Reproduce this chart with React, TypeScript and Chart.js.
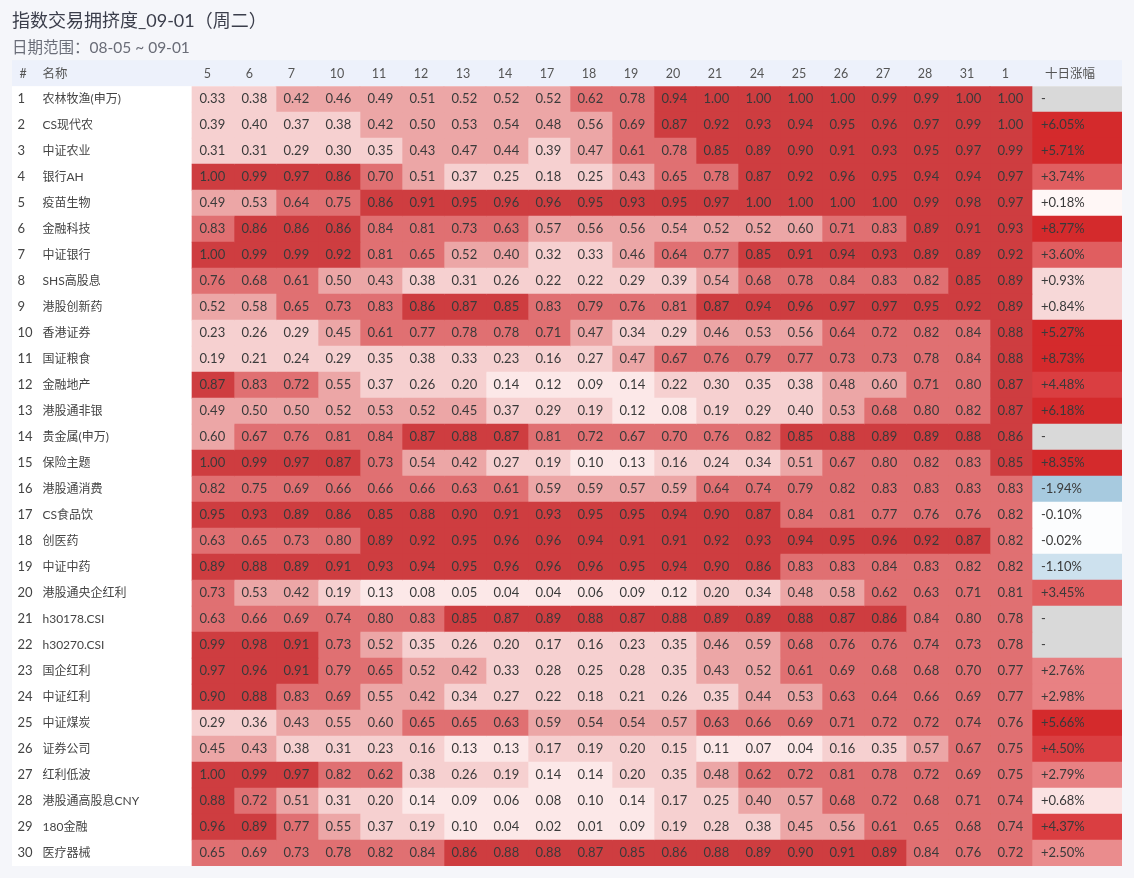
import React, { useEffect, useRef } from 'react';
import { Chart, registerables } from 'chart.js';

Chart.register(...registerables);

// ---------------- data ----------------
const TITLE = '指数交易拥挤度_09-01（周二）';
const SUBTITLE = '日期范围：08-05 ~ 09-01';

const DATES = ['5', '6', '7', '10', '11', '12', '13', '14', '17', '18', '19', '20', '21', '24', '25', '26', '27', '28', '31', '1'];
const CHANGE_HEADER = '十日涨幅';
const NUM_HEADER = '#';
const NAME_HEADER = '名称';

const NAMES = [
  '农林牧渔(申万)', 'CS现代农', '中证农业', '银行AH', '疫苗生物', '金融科技', '中证银行', 'SHS高股息', '港股创新药', '香港证券',
  '国证粮食', '金融地产', '港股通非银', '贵金属(申万)', '保险主题', '港股通消费', 'CS食品饮', '创医药', '中证中药', '港股通央企红利',
  'h30178.CSI', 'h30270.CSI', '国企红利', '中证红利', '中证煤炭', '证券公司', '红利低波', '港股通高股息CNY', '180金融', '医疗器械',
];

const ROW_NUMBERS = ['1', '2', '3', '4', '5', '6', '7', '8', '9', '10', '11', '12', '13', '14', '15', '16', '17', '18', '19', '20', '21', '22', '23', '24', '25', '26', '27', '28', '29', '30'];

// ten-day change in %, null = "-"
const TEN_DAY_CHANGE: (number | null)[] = [
  null, 6.05, 5.71, 3.74, 0.18, 8.77, 3.60, 0.93, 0.84, 5.27,
  8.73, 4.48, 6.18, null, 8.35, -1.94, -0.10, -0.02, -1.10, 3.45,
  null, null, 2.76, 2.98, 5.66, 4.50, 2.79, 0.68, 4.37, 2.50,
];

// crowding score per row (index) per date column
const CROWDING: number[][] = [
  [0.33, 0.38, 0.42, 0.46, 0.49, 0.51, 0.52, 0.52, 0.52, 0.62, 0.78, 0.94, 1.00, 1.00, 1.00, 1.00, 0.99, 0.99, 1.00, 1.00],
  [0.39, 0.398, 0.37, 0.38, 0.42, 0.50, 0.53, 0.54, 0.48, 0.56, 0.69, 0.87, 0.92, 0.93, 0.94, 0.95, 0.96, 0.97, 0.99, 1.00],
  [0.31, 0.31, 0.29, 0.30, 0.35, 0.43, 0.47, 0.44, 0.39, 0.47, 0.61, 0.78, 0.85, 0.89, 0.90, 0.91, 0.93, 0.95, 0.97, 0.99],
  [1.00, 0.99, 0.97, 0.86, 0.70, 0.51, 0.37, 0.25, 0.18, 0.25, 0.43, 0.65, 0.78, 0.87, 0.92, 0.96, 0.95, 0.94, 0.94, 0.97],
  [0.49, 0.53, 0.64, 0.75, 0.86, 0.91, 0.95, 0.96, 0.96, 0.95, 0.93, 0.95, 0.97, 1.00, 1.00, 1.00, 1.00, 0.99, 0.98, 0.97],
  [0.83, 0.86, 0.86, 0.86, 0.84, 0.81, 0.73, 0.63, 0.57, 0.56, 0.56, 0.54, 0.52, 0.52, 0.60, 0.71, 0.83, 0.89, 0.91, 0.93],
  [1.00, 0.99, 0.99, 0.92, 0.81, 0.65, 0.52, 0.40, 0.32, 0.33, 0.46, 0.64, 0.77, 0.85, 0.91, 0.94, 0.93, 0.89, 0.89, 0.92],
  [0.76, 0.68, 0.61, 0.50, 0.43, 0.38, 0.31, 0.26, 0.22, 0.22, 0.29, 0.39, 0.54, 0.68, 0.78, 0.84, 0.83, 0.82, 0.85, 0.89],
  [0.52, 0.58, 0.65, 0.73, 0.83, 0.86, 0.87, 0.85, 0.83, 0.79, 0.76, 0.81, 0.87, 0.94, 0.96, 0.97, 0.97, 0.95, 0.92, 0.89],
  [0.23, 0.26, 0.29, 0.45, 0.61, 0.77, 0.78, 0.78, 0.71, 0.47, 0.34, 0.29, 0.46, 0.53, 0.56, 0.64, 0.72, 0.82, 0.84, 0.88],
  [0.19, 0.21, 0.24, 0.29, 0.35, 0.38, 0.33, 0.23, 0.16, 0.27, 0.47, 0.67, 0.76, 0.79, 0.77, 0.73, 0.73, 0.78, 0.84, 0.88],
  [0.87, 0.83, 0.72, 0.55, 0.37, 0.26, 0.20, 0.14, 0.12, 0.09, 0.14, 0.22, 0.30, 0.35, 0.38, 0.48, 0.60, 0.71, 0.80, 0.87],
  [0.49, 0.50, 0.50, 0.52, 0.53, 0.52, 0.45, 0.37, 0.29, 0.19, 0.12, 0.08, 0.19, 0.29, 0.398, 0.53, 0.68, 0.80, 0.82, 0.87],
  [0.60, 0.67, 0.76, 0.81, 0.84, 0.87, 0.88, 0.87, 0.81, 0.72, 0.67, 0.70, 0.76, 0.82, 0.85, 0.88, 0.89, 0.89, 0.88, 0.86],
  [1.00, 0.99, 0.97, 0.87, 0.73, 0.54, 0.42, 0.27, 0.19, 0.10, 0.13, 0.16, 0.24, 0.34, 0.51, 0.67, 0.80, 0.82, 0.83, 0.85],
  [0.82, 0.75, 0.69, 0.66, 0.66, 0.66, 0.63, 0.61, 0.59, 0.59, 0.57, 0.59, 0.64, 0.74, 0.79, 0.82, 0.83, 0.83, 0.83, 0.83],
  [0.95, 0.93, 0.89, 0.86, 0.85, 0.88, 0.90, 0.91, 0.93, 0.95, 0.95, 0.94, 0.90, 0.87, 0.84, 0.81, 0.77, 0.76, 0.76, 0.82],
  [0.63, 0.65, 0.73, 0.80, 0.89, 0.92, 0.95, 0.96, 0.96, 0.94, 0.91, 0.91, 0.92, 0.93, 0.94, 0.95, 0.96, 0.92, 0.87, 0.82],
  [0.89, 0.88, 0.89, 0.91, 0.93, 0.94, 0.95, 0.96, 0.96, 0.96, 0.95, 0.94, 0.90, 0.86, 0.83, 0.83, 0.84, 0.83, 0.82, 0.82],
  [0.73, 0.53, 0.42, 0.19, 0.13, 0.08, 0.05, 0.04, 0.04, 0.06, 0.09, 0.12, 0.20, 0.34, 0.48, 0.58, 0.62, 0.63, 0.71, 0.81],
  [0.63, 0.66, 0.69, 0.74, 0.80, 0.83, 0.85, 0.87, 0.89, 0.88, 0.87, 0.88, 0.89, 0.89, 0.88, 0.87, 0.86, 0.84, 0.80, 0.78],
  [0.99, 0.98, 0.91, 0.73, 0.52, 0.35, 0.26, 0.20, 0.17, 0.16, 0.23, 0.35, 0.46, 0.59, 0.68, 0.76, 0.76, 0.74, 0.73, 0.78],
  [0.97, 0.96, 0.91, 0.79, 0.65, 0.52, 0.42, 0.33, 0.28, 0.25, 0.28, 0.35, 0.43, 0.52, 0.61, 0.69, 0.68, 0.68, 0.70, 0.77],
  [0.90, 0.88, 0.83, 0.69, 0.55, 0.42, 0.34, 0.27, 0.22, 0.18, 0.21, 0.26, 0.35, 0.44, 0.53, 0.63, 0.64, 0.66, 0.69, 0.77],
  [0.29, 0.36, 0.43, 0.55, 0.60, 0.65, 0.65, 0.63, 0.59, 0.54, 0.54, 0.57, 0.63, 0.66, 0.69, 0.71, 0.72, 0.72, 0.74, 0.76],
  [0.45, 0.43, 0.38, 0.31, 0.23, 0.16, 0.13, 0.13, 0.17, 0.19, 0.20, 0.15, 0.11, 0.07, 0.04, 0.16, 0.35, 0.57, 0.67, 0.75],
  [1.00, 0.99, 0.97, 0.82, 0.62, 0.38, 0.26, 0.19, 0.14, 0.14, 0.20, 0.35, 0.48, 0.62, 0.72, 0.81, 0.78, 0.72, 0.69, 0.75],
  [0.88, 0.72, 0.51, 0.31, 0.20, 0.14, 0.09, 0.06, 0.08, 0.10, 0.14, 0.17, 0.25, 0.403, 0.57, 0.68, 0.72, 0.68, 0.71, 0.74],
  [0.96, 0.89, 0.77, 0.55, 0.37, 0.19, 0.10, 0.04, 0.02, 0.01, 0.09, 0.19, 0.28, 0.38, 0.45, 0.56, 0.61, 0.65, 0.68, 0.74],
  [0.65, 0.69, 0.73, 0.78, 0.82, 0.84, 0.86, 0.88, 0.88, 0.87, 0.85, 0.86, 0.88, 0.89, 0.90, 0.91, 0.89, 0.84, 0.76, 0.72],
];

// ---------------- styles ----------------
const FONT = 'Lato, "Noto Sans CJK SC", sans-serif';
const PAGE_BG = '#f5f6fa';
const HEADER_BG = '#edf1fb';
const TEXT_COLOR = '#3a3a3a';

const TABLE_LEFT = 12;  // px, canvas left of the table
const CELL_W = 42;      // px per date column
const LEFT_W = 180;     // # + name block
const CHANGE_W = 90;    // ten-day change column
const X_MIN = -LEFT_W / CELL_W;
const N_COLS = DATES.length;
const X_MAX = N_COLS + CHANGE_W / CELL_W;
const pxToUnit = (px: number) => (px - TABLE_LEFT - LEFT_W) / CELL_W;

const HEAT_BINS = [0.145, 0.40, 0.605, 0.845];
const HEAT_COLORS = ['#fce8e8', '#f6d0d0', '#eca6a6', '#e07072', '#ce3d40'];

function heatColor(v: number): string {
  let i = 0;
  while (i < HEAT_BINS.length && v >= HEAT_BINS[i]) i++;
  return HEAT_COLORS[i];
}

function changeColor(p: number | null): string {
  if (p === null) return '#d9d9d9';
  if (p >= 5) return '#d42a2c';
  if (p >= 4) return '#da3e41';
  if (p >= 3.2) return '#e05e60';
  if (p >= 2.6) return '#e88183';
  if (p >= 2) return '#ea8c8d';
  if (p >= 0.75) return '#f7d8d8';
  if (p >= 0.5) return '#fbe3e3';
  if (p >= 0) return '#fff7f6';
  if (p > -0.5) return '#fcfdfe';
  if (p > -1.5) return '#cde1ee';
  return '#a7cadf';
}

function changeText(p: number | null): string {
  if (p === null) return '-';
  return (p > 0 ? '+' : '') + p.toFixed(2) + '%';
}

// header ticks on the x axis (dates first so the first tick is inside the area)
const HEADER_TICKS = [
  ...DATES.map((d, i) => ({ value: i + 0.28, label: d })),
  { value: N_COLS + 0.31, label: CHANGE_HEADER },
  { value: pxToUnit(19.5), label: NUM_HEADER },
  { value: pxToUnit(42.5), label: NAME_HEADER },
];

export default function App() {
  const ref = useRef<HTMLCanvasElement>(null);

  useEffect(() => {
    const canvas = ref.current;
    if (!canvas) return;
    Chart.defaults.font.family = FONT;

    const cellTexts: string[][] = [];
    const datasets: any[] = DATES.map((d, c) => {
      cellTexts.push(CROWDING.map((row) => row[c].toFixed(2)));
      return {
        label: d,
        data: CROWDING.map(() => [c, c + 1]),
        backgroundColor: CROWDING.map((row) => heatColor(row[c])),
        borderWidth: 0,
        grouped: false,
        categoryPercentage: 1,
        barPercentage: 1,
        xAxisID: 'x',
        yAxisID: 'y',
      };
    });
    cellTexts.push(TEN_DAY_CHANGE.map(changeText));
    datasets.push({
      label: CHANGE_HEADER,
      data: TEN_DAY_CHANGE.map(() => [N_COLS, X_MAX]),
      backgroundColor: TEN_DAY_CHANGE.map(changeColor),
      borderWidth: 0,
      grouped: false,
      categoryPercentage: 1,
      barPercentage: 1,
      xAxisID: 'x',
      yAxisID: 'y',
    });

    const backgroundPlugin = {
      id: 'tableBackground',
      beforeDraw(chart: any) {
        const { ctx, chartArea, scales } = chart;
        const x = scales.x;
        ctx.save();
        ctx.fillStyle = HEADER_BG;
        ctx.fillRect(chartArea.left, x.top, chartArea.right - chartArea.left, x.bottom - x.top);
        ctx.fillStyle = '#ffffff';
        ctx.fillRect(chartArea.left, chartArea.top, chartArea.right - chartArea.left, chartArea.bottom - chartArea.top);
        ctx.restore();
      },
    };

    const cellTextPlugin = {
      id: 'cellText',
      afterDatasetsDraw(chart: any) {
        const ctx = chart.ctx;
        ctx.save();
        ctx.font = '13px ' + FONT;
        ctx.fillStyle = TEXT_COLOR;
        ctx.textBaseline = 'middle';
        ctx.textAlign = 'left';
        chart.data.datasets.forEach((_ds: any, i: number) => {
          const meta = chart.getDatasetMeta(i);
          const pad = i === N_COLS ? 9 : 7.5;
          meta.data.forEach((bar: any, j: number) => {
            const { x, y, base } = bar.getProps(['x', 'y', 'base'], true);
            ctx.fillText(cellTexts[i][j], Math.min(x, base) + pad, y);
          });
        });
        ctx.restore();
      },
    };

    const zeroY = (axis: any) => {
      axis.width = 0;
      axis.paddingTop = 0;
      axis.paddingBottom = 0;
      axis.paddingLeft = 0;
      axis.paddingRight = 0;
    };

    const chart = new Chart(canvas, {
      type: 'bar',
      data: { labels: NAMES, datasets },
      options: {
        indexAxis: 'y',
        animation: false,
        responsive: false,
        events: [],
        layout: { padding: { left: TABLE_LEFT, right: 12, top: 0, bottom: 12 } },
        plugins: {
          legend: { display: false },
          tooltip: { enabled: false },
          title: {
            display: true,
            text: TITLE,
            align: 'start',
            color: '#3b3e4b',
            font: { size: 18, weight: 'normal', lineHeight: 1.2 },
            padding: { top: 10.2, bottom: 0 },
          },
          subtitle: {
            display: true,
            text: SUBTITLE,
            align: 'start',
            color: '#6a6d78',
            font: { size: 15.5, weight: 'normal', lineHeight: 1.2 },
            padding: { top: 6.4, bottom: 3.4 },
          },
        },
        scales: {
          x: {
            type: 'linear',
            position: 'top',
            min: X_MIN,
            max: X_MAX,
            grid: { display: false, drawTicks: false },
            border: { display: false },
            afterBuildTicks: (axis: any) => {
              axis.ticks = HEADER_TICKS.map((t) => ({ value: t.value }));
            },
            afterFit: (axis: any) => {
              axis.height = 26;
              axis.paddingLeft = 0;
              axis.paddingRight = 0;
            },
            ticks: {
              autoSkip: false,
              align: 'start',
              maxRotation: 0,
              minRotation: 0,
              padding: 5,
              color: '#555555',
              font: { size: 12.5 },
              callback: (_v: any, i: number) => HEADER_TICKS[i].label,
            },
          },
          y: {
            type: 'category',
            position: 'left',
            labels: NAMES,
            offset: true,
            grid: { display: false, drawTicks: false },
            border: { display: false },
            afterFit: zeroY,
            ticks: { mirror: true, padding: 30.5, color: '#444444', font: { size: 12 }, z: 1, autoSkip: false },
          },
          yn: {
            type: 'category',
            position: 'left',
            labels: ROW_NUMBERS,
            offset: true,
            grid: { display: false, drawTicks: false },
            border: { display: false },
            afterFit: zeroY,
            ticks: { mirror: true, padding: 5.5, color: '#444444', font: { size: 13 }, z: 1, autoSkip: false },
          },
        },
      } as any,
      plugins: [backgroundPlugin, cellTextPlugin],
    });

    return () => chart.destroy();
  }, []);

  return (
    <div style={{ position: 'fixed', left: 0, top: 0, width: 1134, height: 878, background: PAGE_BG }}>
      <canvas ref={ref} width={1134} height={878} style={{ display: 'block', width: 1134, height: 878 }} />
    </div>
  );
}
